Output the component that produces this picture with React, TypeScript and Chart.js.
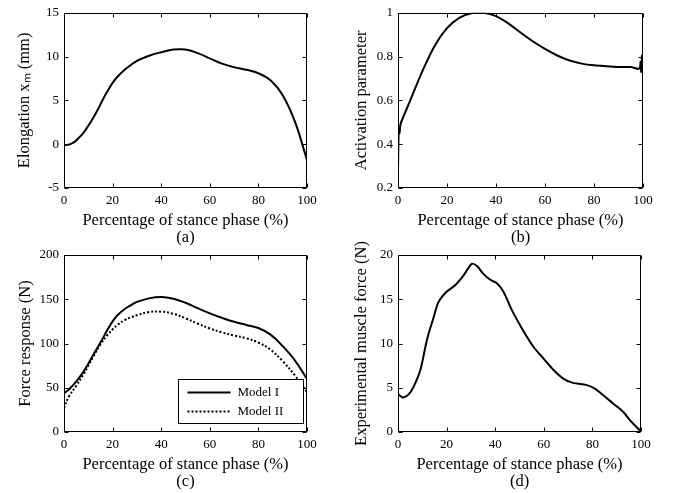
import React, { useEffect, useRef } from 'react';
import { Chart, registerables } from 'chart.js';

Chart.register(...registerables);

// ---------- data ----------
const xTicks = [0, 20, 40, 60, 80, 100];

const stanceA = [0, 2, 4, 6, 8, 10, 12, 14, 16, 18, 20, 22, 25, 30, 35, 40, 45, 50, 55, 60, 65, 70, 75, 80, 85, 90, 95, 100];
const elongation = [-0.1, -0.05, 0.2, 0.7, 1.3, 2.1, 3.0, 4.0, 5.1, 6.1, 7.0, 7.7, 8.5, 9.5, 10.1, 10.5, 10.8, 10.8, 10.4, 9.8, 9.2, 8.8, 8.5, 8.1, 7.3, 5.6, 2.6, -1.8];

const stanceB = [0, 0.3, 0.6, 1, 2, 5, 10, 15, 20, 25, 30, 35, 40, 45, 50, 55, 60, 65, 70, 75, 80, 85, 90, 95, 98.5, 99, 99.3, 99.6, 100];
const activation = [0.28, 0.47, 0.45, 0.49, 0.52, 0.6, 0.735, 0.85, 0.93, 0.977, 0.998, 1.0, 0.985, 0.952, 0.91, 0.87, 0.835, 0.805, 0.782, 0.768, 0.76, 0.756, 0.753, 0.752, 0.745, 0.775, 0.73, 0.805, 0.75];

const stanceC = [0, 2, 5, 8, 10, 12, 15, 18, 20, 22, 25, 28, 30, 35, 40, 45, 50, 55, 60, 65, 70, 75, 80, 85, 90, 95, 100];
const modelI = [44, 48, 57, 68, 77, 87, 101, 116, 125, 132, 139, 144, 147, 151, 152.5, 150.5, 146, 140, 134, 129, 124.5, 121, 117.5, 110, 97, 81, 60];
const modelII = [27, 40, 52, 65, 75, 85, 99, 110, 116, 121, 126.5, 130, 132, 135.5, 136, 133.5, 128.5, 122.5, 117, 112.5, 109, 106, 101, 93, 80, 64, 45];

const stanceD = [0, 1.6, 2.3, 4.4, 6.4, 9.2, 11.9, 14.7, 16.7, 20, 23.6, 27, 30.4, 32.5, 35, 38, 40.7, 43.4, 46.8, 51, 55.8, 59.9, 64, 68, 72, 77.7, 81, 84.5, 88.6, 92.7, 95.5, 100];
const muscleForce = [4.3, 3.95, 3.9, 4.25, 5.1, 7, 10.4, 13, 14.7, 15.85, 16.6, 17.7, 19, 18.75, 17.9, 17.2, 16.8, 15.85, 13.8, 11.7, 9.6, 8.3, 7, 6.04, 5.55, 5.3, 4.9, 4.15, 3.2, 2.26, 1.32, 0.05];

const xTitle = 'Percentage of stance phase (%)';
const seriesLabels = ['Model I', 'Model II'];

// ---------- styling ----------
const W = 677;
const H = 493;
const FONT = "'Liberation Serif', 'Times New Roman', serif";
const Y_AXIS_W = 60;
const X_AXIS_H = 58;

const framePlugin = {
  id: 'frame',
  afterDraw(chart: any) {
    const { ctx, chartArea: a, scales } = chart;
    const L = Math.round(a.left) + 0.5;
    const R = Math.round(a.right) - 0.5;
    const T = Math.round(a.top) + 0.5;
    const B = Math.round(a.bottom) - 0.5;
    const tl = 4;
    ctx.save();
    ctx.strokeStyle = '#000';
    ctx.lineWidth = 1;
    ctx.setLineDash([]);
    ctx.beginPath();
    ctx.rect(L, T, R - L, B - T);
    const xs = scales.x;
    xs.ticks.forEach((t: any) => {
      const p = Math.round(xs.getPixelForValue(t.value)) + 0.5;
      ctx.moveTo(p, B);
      ctx.lineTo(p, B - tl);
      ctx.moveTo(p, T);
      ctx.lineTo(p, T + tl);
    });
    const ys = scales.y;
    ys.ticks.forEach((t: any) => {
      const p = Math.round(ys.getPixelForValue(t.value)) + 0.5;
      ctx.moveTo(L, p);
      ctx.lineTo(L + tl, p);
      ctx.moveTo(R, p);
      ctx.lineTo(R - tl, p);
    });
    ctx.stroke();
    ctx.restore();
  },
};

// vertical axis title drawn without width compression
const yTitlePlugin = {
  id: 'yTitle',
  afterDraw(chart: any, _args: any, opts: any) {
    const { ctx, chartArea: a } = chart;
    ctx.save();
    ctx.translate(a.left - opts.offset, (a.top + a.bottom) / 2);
    ctx.rotate(-Math.PI / 2);
    ctx.fillStyle = '#000';
    ctx.font = `16.5px ${FONT}`;
    ctx.textAlign = 'center';
    ctx.textBaseline = 'middle';
    ctx.fillText(opts.text, 0, 0);
    ctx.restore();
  },
};

const boxLegendPlugin = {
  id: 'boxLegend',
  afterDraw(chart: any) {
    const { ctx, chartArea: a } = chart;
    const bw = 125;
    const bh = 44;
    const bx = Math.round(a.right - 4 - bw) + 0.5;
    const by = Math.round(a.bottom - 9 - bh) + 0.5;
    ctx.save();
    ctx.fillStyle = '#fff';
    ctx.fillRect(bx, by, bw, bh);
    ctx.strokeStyle = '#000';
    ctx.lineWidth = 1;
    ctx.setLineDash([]);
    ctx.strokeRect(bx, by, bw, bh);
    chart.data.datasets.forEach((ds: any, i: number) => {
      const y = by + 13 + i * 19;
      ctx.beginPath();
      ctx.lineWidth = ds.borderWidth;
      ctx.strokeStyle = ds.borderColor;
      ctx.setLineDash(ds.borderDash || []);
      ctx.moveTo(bx + 9, y);
      ctx.lineTo(bx + 52, y);
      ctx.stroke();
      ctx.setLineDash([]);
      ctx.fillStyle = '#000';
      ctx.font = `13px ${FONT}`;
      ctx.textBaseline = 'middle';
      ctx.textAlign = 'left';
      ctx.fillText(ds.label, bx + 59, y);
    });
    ctx.restore();
  },
};

type Series = { label: string; xs: number[]; ys: number[]; dash?: number[] };
type PanelDef = {
  series: Series[];
  yMin: number;
  yMax: number;
  yStep: number;
  yTitle: string;
  caption: string;
  area: { left: number; right: number; top: number; bottom: number };
  yTitleOffset: number;
  legend?: boolean;
  tension?: number;
};

const panels: PanelDef[] = [
  {
    series: [{ label: 'Elongation', xs: stanceA, ys: elongation }],
    yMin: -5, yMax: 15, yStep: 5,
    yTitle: 'Elongation x\u2098 (mm)',
    caption: '(a)',
    area: { left: 64, right: 307, top: 11, bottom: 188 },
    yTitleOffset: 39,
  },
  {
    series: [{ label: 'Activation', xs: stanceB, ys: activation }],
    yMin: 0.2, yMax: 1, yStep: 0.2,
    yTitle: 'Activation parameter',
    caption: '(b)',
    area: { left: 398, right: 643, top: 11, bottom: 188 },
    yTitleOffset: 36,
    tension: 0.3,
  },
  {
    series: [
      { label: seriesLabels[0], xs: stanceC, ys: modelI },
      { label: seriesLabels[1], xs: stanceC, ys: modelII, dash: [2, 2] },
    ],
    yMin: 0, yMax: 200, yStep: 50,
    yTitle: 'Force response (N)',
    caption: '(c)',
    area: { left: 64, right: 307, top: 255, bottom: 432 },
    yTitleOffset: 38,
    legend: true,
  },
  {
    series: [{ label: 'Experimental', xs: stanceD, ys: muscleForce }],
    yMin: 0, yMax: 20, yStep: 5,
    yTitle: 'Experimental muscle force (N)',
    caption: '(d)',
    area: { left: 398, right: 641, top: 255, bottom: 432 },
    yTitleOffset: 36,
    tension: 0.3,
  },
];

function PanelChart({ def }: { def: PanelDef }) {
  const ref = useRef<HTMLCanvasElement | null>(null);
  useEffect(() => {
    if (!ref.current) return;
    const a = def.area;
    const chart = new Chart(ref.current, {
      type: 'line',
      data: {
        datasets: def.series.map((s) => ({
          label: s.label,
          data: s.xs.map((x, i) => ({ x, y: s.ys[i] })),
          borderColor: '#000',
          backgroundColor: '#000',
          borderWidth: 2,
          borderDash: s.dash || [],
          pointRadius: 0,
          fill: false,
          tension: def.tension ?? 0.4,
        })),
      },
      options: {
        responsive: false,
        animation: false,
        devicePixelRatio: 1,
        layout: {
          padding: {
            left: a.left - Y_AXIS_W,
            right: W - a.right,
            top: a.top,
            bottom: H - a.bottom - X_AXIS_H,
          },
        },
        plugins: {
          legend: { display: false },
          tooltip: { enabled: false },
          yTitle: { text: def.yTitle, offset: def.yTitleOffset },
        },
        scales: {
          x: {
            type: 'linear',
            min: 0,
            max: 100,
            afterBuildTicks: (s: any) => {
              s.ticks = xTicks.map((v) => ({ value: v }));
            },
            ticks: {
              padding: 5,
              color: '#000',
              font: { family: FONT, size: 13 },
              maxRotation: 0,
            },
            grid: { display: false, drawTicks: false },
            border: { display: false },
            title: {
              display: true,
              text: [xTitle, def.caption],
              color: '#000',
              font: { family: FONT, size: 16.5, lineHeight: 17 / 16.5 },
              padding: { top: 0, bottom: 0 },
            },
            afterFit: (s: any) => {
              s.height = X_AXIS_H;
            },
          },
          y: {
            type: 'linear',
            min: def.yMin,
            max: def.yMax,
            ticks: {
              stepSize: def.yStep,
              padding: 5,
              color: '#000',
              font: { family: FONT, size: 13 },
              callback: (v: any) => String(Number(Number(v).toFixed(2))),
            },
            grid: { display: false, drawTicks: false },
            border: { display: false },
            title: { display: false },
            afterFit: (s: any) => {
              s.width = Y_AXIS_W;
            },
          },
        },
      } as any,
      plugins: def.legend
        ? [framePlugin, yTitlePlugin, boxLegendPlugin]
        : [framePlugin, yTitlePlugin],
    });
    return () => chart.destroy();
  }, [def]);
  return (
    <canvas
      ref={ref}
      width={W}
      height={H}
      style={{ position: 'absolute', left: 0, top: 0, width: W, height: H }}
    />
  );
}

export default function App() {
  return (
    <div style={{ position: 'absolute', left: 0, top: 0, width: W, height: H, background: '#fff' }}>
      {panels.map((p, i) => (
        <PanelChart key={i} def={p} />
      ))}
    </div>
  );
}
